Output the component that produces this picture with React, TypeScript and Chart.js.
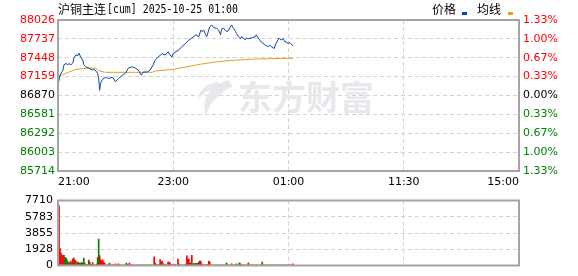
import React, { useEffect, useRef } from 'react';
import { Chart, registerables } from 'chart.js';

Chart.register(...registerables);

const TITLE_CN = '沪铜主连';
const TITLE_REST = '[cum] 2025-10-25 01:00';
const LEGEND_PRICE = '价格';
const LEGEND_AVG = '均线';
const WATERMARK = '东方财富';
const PREV_CLOSE = 86870;
const PRICE_TICKS = [85714, 86003, 86292, 86581, 86870, 87159, 87448, 87737, 88026];
const TIME_LABELS = ['21:00', '23:00', '01:00', '11:30', '15:00'];
const TOTAL_MINUTES = 465;
const VOLUME_TICKS = [0, 1928, 3855, 5783, 7710];

const priceMinutes = [0, 2, 5, 6, 8, 10, 11, 13, 15, 16, 18, 20, 21, 23, 25, 26, 28, 31, 35, 37, 40, 41, 42, 43, 45, 48, 51, 55, 58, 61, 65, 68, 71, 75, 78, 81, 84, 86, 90, 93, 96, 98, 101, 105, 108, 111, 113, 115, 116, 119, 122, 125, 129, 132, 135, 139, 142, 144, 145, 147, 149, 150, 153, 155, 157, 160, 162, 164, 165, 167, 169, 171, 174, 175, 177, 179, 180, 182, 184, 185, 187, 189, 190, 192, 195, 199, 200, 202, 205, 209, 212, 214, 215, 218, 220, 223, 225, 227, 229, 230, 232, 234, 237];
const priceValues = [87030, 87180, 87260, 87340, 87360, 87340, 87360, 87340, 87370, 87440, 87490, 87480, 87520, 87460, 87410, 87340, 87310, 87290, 87260, 87270, 87210, 87130, 86950, 87060, 87120, 87150, 87130, 87150, 87080, 87130, 87180, 87210, 87290, 87310, 87290, 87260, 87180, 87230, 87230, 87260, 87340, 87410, 87460, 87510, 87490, 87540, 87490, 87460, 87510, 87540, 87570, 87620, 87670, 87720, 87750, 87800, 87770, 87870, 87850, 87870, 87800, 87770, 87920, 87950, 87910, 87900, 87870, 87800, 87890, 87900, 87860, 87850, 87920, 87950, 87900, 87850, 87820, 87770, 87740, 87770, 87750, 87720, 87750, 87740, 87750, 87770, 87800, 87750, 87690, 87640, 87620, 87640, 87620, 87590, 87670, 87750, 87720, 87740, 87690, 87690, 87670, 87680, 87630];

const avgMinutes = [0, 8, 18, 31, 38, 41, 48, 95, 98, 116, 144, 162, 179, 200, 237];
const avgValues = [87160, 87210, 87270, 87290, 87290, 87250, 87225, 87225, 87245, 87270, 87350, 87390, 87410, 87430, 87440];

// one volume per minute from 21:00 (minute 0) to 00:57 (minute 237)
const volValues = [
  0, 7120, 2010, 1460, 1220, 1220, 1220, 940, 900, 700,
  420, 420, 210, 520, 280, 800, 870, 600, 520, 200,
  420, 280, 280, 280, 350, 280, 870, 280, 100, 60,
  100, 630, 420, 120, 120, 350, 100, 60, 60, 160,
  940, 3130, 1180, 700, 520, 630, 420, 280, 60, 60,
  80, 60, 280, 60, 60, 80, 60, 60, 210, 60,
  60, 210, 60, 60, 60, 80, 60, 60, 60, 280,
  150, 60, 280, 60, 60, 80, 60, 60, 60, 60,
  80, 60, 60, 60, 60, 80, 60, 60, 60, 60,
  80, 60, 60, 60, 80, 60, 60, 1040, 280, 150,
  60, 60, 150, 700, 420, 520, 240, 60, 100, 60,
  60, 420, 420, 280, 60, 100, 60, 60, 120, 60,
  60, 760, 200, 60, 60, 80, 60, 60, 60, 180,
  1150, 760, 760, 300, 310, 1200, 60, 250, 150, 250,
  250, 250, 420, 520, 520, 200, 60, 60, 80, 60,
  150, 60, 520, 420, 60, 60, 80, 60, 60, 60,
  80, 60, 60, 60, 60, 80, 60, 60, 60, 60,
  310, 60, 60, 60, 60, 200, 60, 60, 80, 60,
  200, 60, 60, 310, 200, 60, 60, 60, 80, 60,
  60, 60, 310, 60, 60, 60, 80, 60, 60, 60,
  80, 60, 60, 60, 60, 60, 420, 60, 60, 60,
  80, 60, 60, 60, 60, 80, 60, 60, 60, 60,
  80, 60, 60, 60, 60, 80, 60, 60, 60, 60,
  80, 60, 60, 60, 80, 60, 60, 210,
];
const volUp = [
  1, 1, 1, 1, 1, 1, 1, 0, 0, 0,
  0, 1, 0, 1, 0, 1, 1, 0, 1, 0,
  1, 0, 0, 0, 0, 1, 0, 0, 1, 1,
  1, 1, 0, 1, 1, 1, 0, 1, 1, 0,
  0, 0, 1, 1, 1, 1, 1, 1, 1, 0,
  1, 1, 0, 1, 1, 1, 0, 1, 1, 1,
  1, 1, 1, 0, 1, 0, 1, 1, 1, 0,
  0, 1, 1, 1, 1, 1, 1, 1, 0, 1,
  1, 1, 1, 1, 1, 1, 1, 0, 1, 1,
  1, 1, 1, 1, 1, 1, 1, 1, 1, 0,
  1, 1, 0, 1, 1, 1, 0, 1, 1, 1,
  1, 1, 1, 1, 1, 1, 1, 1, 1, 1,
  1, 1, 0, 1, 1, 0, 1, 1, 1, 1,
  1, 1, 1, 1, 0, 1, 1, 0, 1, 0,
  1, 0, 1, 0, 1, 1, 1, 1, 1, 1,
  0, 1, 1, 1, 1, 1, 1, 1, 0, 1,
  0, 1, 1, 1, 1, 1, 1, 1, 1, 1,
  0, 1, 1, 1, 1, 1, 1, 0, 1, 1,
  0, 1, 1, 0, 1, 1, 1, 1, 0, 1,
  1, 1, 1, 1, 1, 0, 1, 1, 1, 1,
  1, 1, 1, 1, 1, 1, 0, 0, 1, 1,
  1, 1, 1, 1, 1, 0, 1, 1, 1, 1,
  1, 1, 1, 0, 0, 1, 1, 1, 1, 1,
  0, 0, 1, 1, 1, 1, 1, 1,
];

const NUM_FONT = 'DejaVu Sans';
const CJK_FONT = 'Noto Sans CJK SC';
const RED = '#ff0000';
const GREEN = '#008000';
const GRID = '#d2d2d2';
const FRAME = '#a4a4a4';
const BLUE = '#0b4a9e';
const ORANGE = '#e0a020';

const timeTickValues = TIME_LABELS.map((_, i) => (i * TOTAL_MINUTES) / (TIME_LABELS.length - 1));

const tickColor = (v: number) => (v > PREV_CLOSE ? RED : v < PREV_CLOSE ? GREEN : '#000');

const framePlugin = {
  id: 'frame',
  afterDraw(chart: any) {
    const { ctx, chartArea: a } = chart;
    ctx.save();
    ctx.strokeStyle = FRAME;
    ctx.lineWidth = 2;
    ctx.strokeRect(a.left, a.top, a.right - a.left, a.bottom - a.top);
    ctx.restore();
  },
};

const headerPlugin = {
  id: 'header',
  afterDraw(chart: any) {
    const { ctx } = chart;
    ctx.save();
    ctx.fillStyle = '#000';
    ctx.textBaseline = 'middle';
    ctx.font = `12px "${CJK_FONT}"`;
    ctx.fillText(TITLE_CN, 58, 9);
    ctx.font = '12px "DejaVu Sans Mono"';
    ctx.fillText(TITLE_REST, 107, 10, 131);
    ctx.font = `12px "${CJK_FONT}"`;
    ctx.fillText(LEGEND_PRICE, 432, 9);
    ctx.fillText(LEGEND_AVG, 477, 9);
    ctx.fillStyle = BLUE;
    ctx.fillRect(462, 12, 5, 3);
    ctx.fillStyle = ORANGE;
    ctx.fillRect(508, 12, 5, 3);
    ctx.restore();
  },
};

const watermarkPlugin = {
  id: 'watermark',
  beforeDatasetsDraw(chart: any) {
    const { ctx } = chart;
    ctx.save();
    ctx.fillStyle = '#e8e8ec';
    ctx.beginPath();
    ctx.moveTo(228, 80);
    ctx.quadraticCurveTo(198, 90, 206, 116);
    ctx.quadraticCurveTo(210, 98, 233, 86);
    ctx.closePath();
    ctx.fill();
    ctx.beginPath();
    ctx.moveTo(218, 82);
    ctx.quadraticCurveTo(200, 84, 198, 100);
    ctx.quadraticCurveTo(205, 90, 220, 86);
    ctx.closePath();
    ctx.fill();
    ctx.font = `bold 34px "${CJK_FONT}"`;
    ctx.textBaseline = 'middle';
    ctx.fillText(WATERMARK, 238, 97);
    ctx.restore();
  },
};

export default function App() {
  const mainRef = useRef<HTMLCanvasElement>(null);
  const volRef = useRef<HTMLCanvasElement>(null);

  useEffect(() => {
    document.body.style.margin = '0';
    const mainChart = new Chart(mainRef.current!, {
      type: 'line',
      data: {
        datasets: [
          {
            label: LEGEND_PRICE,
            data: priceMinutes.map((m, i) => ({ x: m, y: priceValues[i] })),
            borderColor: BLUE,
            borderWidth: 1,
            pointRadius: 0,
            tension: 0,
            yAxisID: 'y',
          },
          {
            label: LEGEND_AVG,
            data: avgMinutes.map((m, i) => ({ x: m, y: avgValues[i] })),
            borderColor: ORANGE,
            borderWidth: 1,
            pointRadius: 0,
            tension: 0,
            yAxisID: 'y',
          },
        ],
      },
      options: {
        animation: false,
        responsive: false,
        maintainAspectRatio: false,
        layout: { padding: { top: 20, left: 0, right: 0, bottom: 0 } },
        plugins: { legend: { display: false }, tooltip: { enabled: false } },
        scales: {
          x: {
            type: 'linear',
            min: 0,
            max: TOTAL_MINUTES,
            afterBuildTicks: (s: any) => {
              s.ticks = timeTickValues.map((v) => ({ value: v }));
            },
            afterFit: (s: any) => {
              s.height = 19;
            },
            ticks: {
              autoSkip: false,
              maxRotation: 0,
              align: 'inner',
              padding: 5,
              color: '#000',
              font: { family: NUM_FONT, size: 11 },
              callback: (_v: any, i: number) => TIME_LABELS[i],
            },
            grid: { color: GRID, drawTicks: false },
            border: { display: false, dash: [4, 3] },
          },
          y: {
            position: 'left',
            min: PRICE_TICKS[0],
            max: PRICE_TICKS[PRICE_TICKS.length - 1],
            afterBuildTicks: (s: any) => {
              s.ticks = PRICE_TICKS.map((v) => ({ value: v }));
            },
            afterFit: (s: any) => {
              s.width = 58;
            },
            ticks: {
              padding: 3,
              font: { family: NUM_FONT, size: 11 },
              color: (c: any) => tickColor(c.tick.value),
              callback: (v: any) => String(v),
            },
            grid: { color: GRID, drawTicks: false },
            border: { display: false, dash: [4, 3] },
          },
          y1: {
            position: 'right',
            min: PRICE_TICKS[0],
            max: PRICE_TICKS[PRICE_TICKS.length - 1],
            afterBuildTicks: (s: any) => {
              s.ticks = PRICE_TICKS.map((v) => ({ value: v }));
            },
            afterFit: (s: any) => {
              s.width = 59;
            },
            ticks: {
              padding: 4,
              font: { family: NUM_FONT, size: 11 },
              color: (c: any) => tickColor(c.tick.value),
              callback: (v: any) => ((Math.abs(v - PREV_CLOSE) / PREV_CLOSE) * 100).toFixed(2) + '%',
            },
            grid: { display: false, drawTicks: false },
            border: { display: false },
          },
        },
      } as any,
      plugins: [watermarkPlugin, framePlugin, headerPlugin],
    });

    const volChart = new Chart(volRef.current!, {
      type: 'bar',
      data: {
        datasets: [
          {
            label: 'vol',
            data: volValues.map((v, i) => ({ x: i, y: v })),
            backgroundColor: volUp.map((u) => (u ? RED : GREEN)),
            barThickness: 1,
            borderWidth: 0,
          },
        ],
      },
      options: {
        animation: false,
        responsive: false,
        maintainAspectRatio: false,
        layout: { padding: { top: 6, left: 0, right: 59, bottom: 6 } },
        plugins: { legend: { display: false }, tooltip: { enabled: false } },
        scales: {
          x: {
            type: 'linear',
            min: 0,
            max: TOTAL_MINUTES,
            offset: false,
            afterBuildTicks: (s: any) => {
              s.ticks = timeTickValues.map((v) => ({ value: v }));
            },
            afterFit: (s: any) => {
              s.height = 0;
            },
            ticks: { display: false },
            grid: { color: GRID, drawTicks: false, offset: false },
            border: { display: false, dash: [4, 3] },
          },
          y: {
            position: 'left',
            min: 0,
            max: VOLUME_TICKS[VOLUME_TICKS.length - 1],
            afterBuildTicks: (s: any) => {
              s.ticks = VOLUME_TICKS.map((v) => ({ value: v }));
            },
            afterFit: (s: any) => {
              s.width = 58;
            },
            ticks: {
              padding: 5,
              color: '#000',
              font: { family: NUM_FONT, size: 11, lineHeight: 1 },
              callback: (v: any) => String(v),
            },
            grid: { color: GRID, drawTicks: false },
            border: { display: false, dash: [4, 3] },
          },
        },
      } as any,
      plugins: [framePlugin],
    });

    return () => {
      mainChart.destroy();
      volChart.destroy();
    };
  }, []);

  return (
    <div style={{ position: 'relative', width: 578, height: 276, background: '#fff' }}>
      <canvas ref={mainRef} width={578} height={190} style={{ position: 'absolute', left: 0, top: 0, width: 578, height: 190 }} />
      <canvas ref={volRef} width={578} height={86} style={{ position: 'absolute', left: 0, top: 190, width: 578, height: 86 }} />
    </div>
  );
}
